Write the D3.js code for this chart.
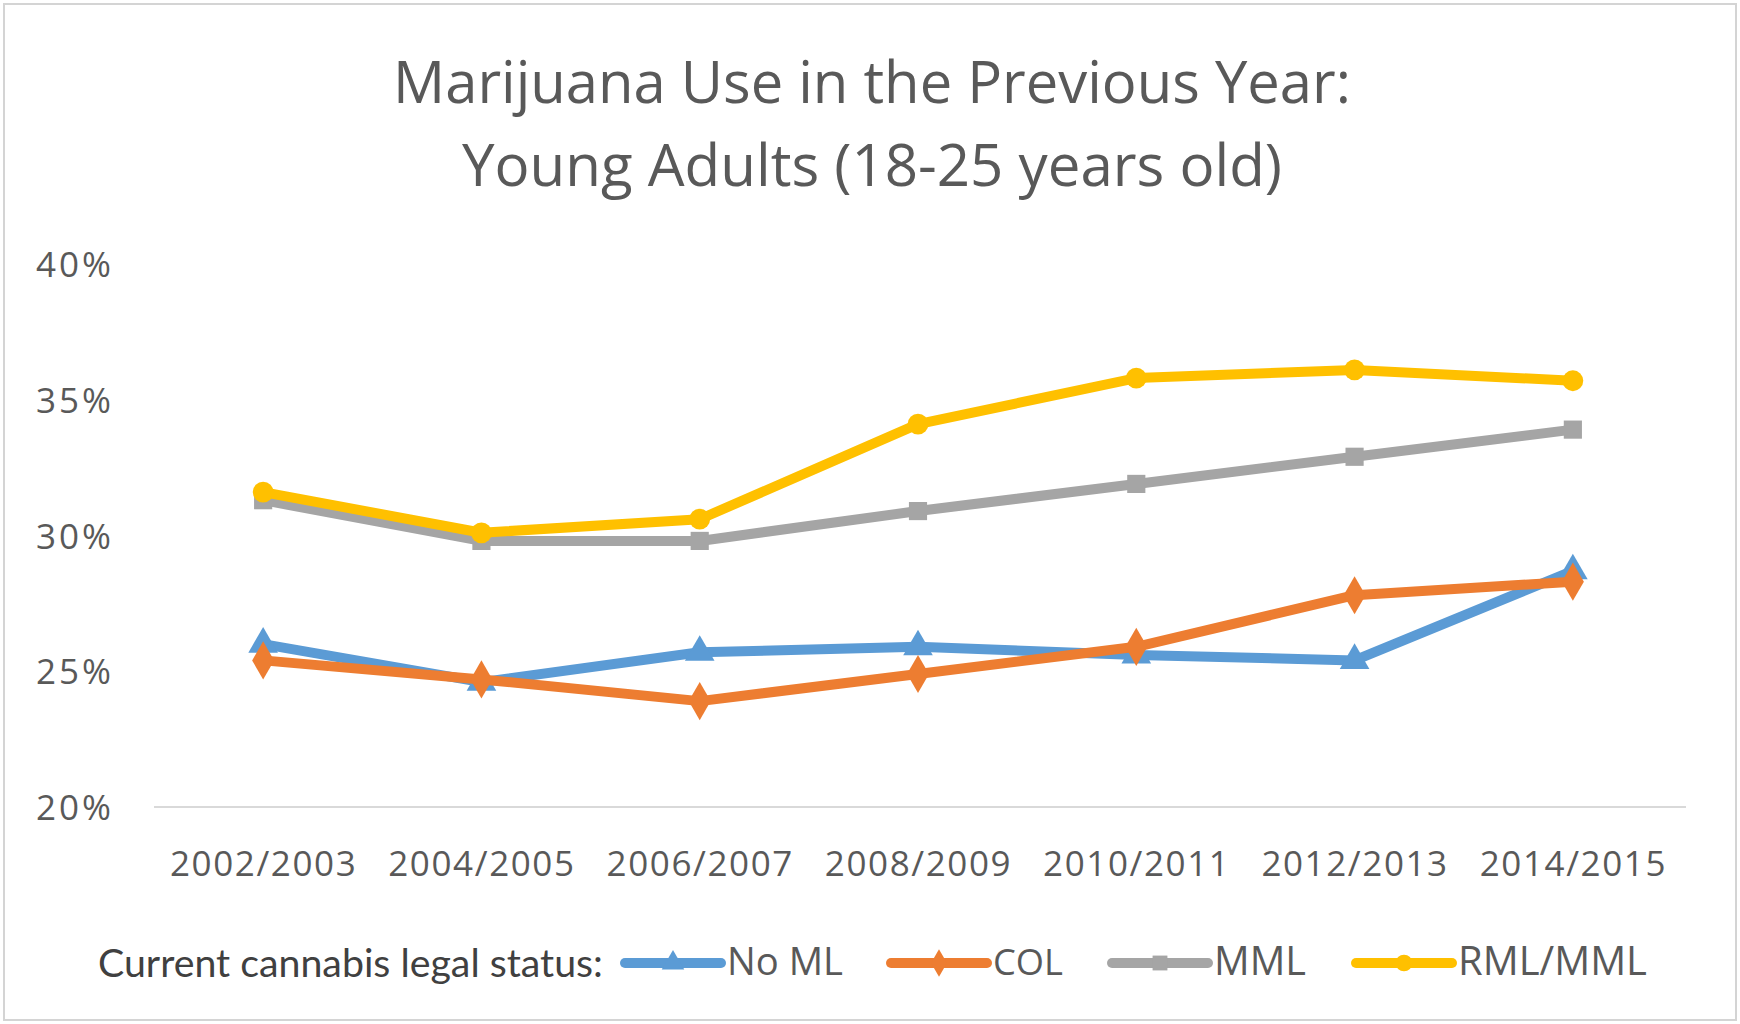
<!DOCTYPE html>
<html>
<head>
<meta charset="utf-8">
<script src="https://cdn.jsdelivr.net/npm/d3@7"></script>
<style>
  html, body { margin: 0; padding: 0; background: #fff; }
  svg { display: block; }
</style>
</head>
<body>
<svg id="chart" width="1740" height="1024"></svg>
<script>
// Survey periods on the x axis
const periods = ["2002/2003", "2004/2005", "2006/2007", "2008/2009", "2010/2011", "2012/2013", "2014/2015"];

// Past-year marijuana use (%) among 18-25 year olds, by current state legal status
const noML   = [26.0, 24.6, 25.7, 25.9, 25.6, 25.4, 28.7];
const col    = [25.4, 24.7, 23.9, 24.9, 25.9, 27.8, 28.3];
const mml    = [31.3, 29.8, 29.8, 30.9, 31.9, 32.9, 33.9];
const rmlMml = [31.6, 30.1, 30.6, 34.1, 35.8, 36.1, 35.7];

const seriesNames = ["No ML", "COL", "MML", "RML/MML"];
const yTicks = [20, 25, 30, 35, 40];

const titleLines = ["Marijuana Use in the Previous Year:", "Young Adults (18-25 years old)"];
const legendCaption = "Current cannabis legal status:";

const series = [
  { name: seriesNames[0], values: noML,   color: "#5B9BD5", symbol: d3.symbolTriangle },
  { name: seriesNames[1], values: col,    color: "#ED7D31", symbol: d3.symbolDiamond },
  { name: seriesNames[2], values: mml,    color: "#A5A5A5", symbol: d3.symbolSquare },
  { name: seriesNames[3], values: rmlMml, color: "#FFC000", symbol: d3.symbolCircle }
];

const svg = d3.select("#chart");
const W = 1740, H = 1024;

// Shrinks or grows a text element's font size so it spans the given width
function fitWidth(sel, width) {
  const node = sel.node();
  const fs = parseFloat(sel.attr("font-size"));
  const w = node.getComputedTextLength();
  sel.attr("font-size", (fs * width / w).toFixed(2));
  return sel;
}

// Outer frame
svg.append("rect")
  .attr("x", 4).attr("y", 4).attr("width", W - 8).attr("height", H - 8)
  .attr("fill", "#fff").attr("stroke", "#d4d4d4").attr("stroke-width", 2);

// Title
const titleFont = "'Open Sans', 'Noto Sans', sans-serif";
const titleWidths = [958, 820];
const titleBaselines = [103, 186];
titleLines.forEach((t, i) => {
  const el = svg.append("text")
    .attr("x", 872).attr("y", titleBaselines[i])
    .attr("text-anchor", "middle")
    .attr("font-family", titleFont)
    .attr("font-size", 56)
    .attr("fill", "#595959")
    .text(t);
  fitWidth(el, titleWidths[i]);
});

// Plot area
const margin = { left: 154, right: 1682, top: 264, bottom: 807 };

const x = d3.scalePoint()
  .domain(periods)
  .range([margin.left, margin.right])
  .padding(0.5);

const y = d3.scaleLinear()
  .domain([20, 40])
  .range([margin.bottom, margin.top]);

const labelFont = "'Open Sans', 'Noto Sans', sans-serif";

// Y axis: labels only, no line
const yAxis = d3.axisLeft(y)
  .tickValues(yTicks)
  .tickFormat(d => d + "%")
  .tickSize(0)
  .tickPadding(0);

const yg = svg.append("g")
  .attr("transform", `translate(114,0)`)
  .call(yAxis);
yg.select(".domain").remove();
yg.selectAll("text")
  .attr("font-family", labelFont)
  .attr("font-size", 35)
  .attr("letter-spacing", 3)
  .attr("fill", "#595959")
  .attr("dy", "0.36em");

// Baseline at 20%
svg.append("line")
  .attr("x1", margin.left).attr("x2", margin.right + 4)
  .attr("y1", y(20)).attr("y2", y(20))
  .attr("stroke", "#d9d9d9").attr("stroke-width", 2);

// X axis: category labels
const xAxis = d3.axisBottom(x).tickSize(0).tickPadding(0);
const xg = svg.append("g")
  .attr("transform", `translate(0,876)`)
  .call(xAxis);
xg.select(".domain").remove();
xg.selectAll("text")
  .attr("font-family", labelFont)
  .attr("font-size", 35)
  .attr("letter-spacing", 1.6)
  .attr("fill", "#595959")
  .attr("dy", 0);

// Lines and markers
const line = d3.line()
  .x((d, i) => x(periods[i]))
  .y(d => y(d));

const markerSize = { "No ML": 380, "COL": 420, "MML": 330, "RML/MML": 340 };

series.forEach(s => {
  const g = svg.append("g").attr("class", "series");
  g.append("path")
    .datum(s.values)
    .attr("d", line)
    .attr("fill", "none")
    .attr("stroke", s.color)
    .attr("stroke-width", 10)
    .attr("stroke-linejoin", "round")
    .attr("stroke-linecap", "round");
  g.selectAll("path.marker")
    .data(s.values)
    .join("path")
    .attr("class", "marker")
    .attr("transform", (d, i) => `translate(${x(periods[i])},${y(d)})`)
    .attr("d", d3.symbol().type(s.symbol).size(markerSize[s.name]))
    .attr("fill", s.color);
});

// Legend
const cap = svg.append("text")
  .attr("x", 98).attr("y", 977)
  .attr("font-family", "Lato, 'Open Sans', sans-serif")
  .attr("font-size", 40)
  .attr("fill", "#404040")
  .text(legendCaption);
fitWidth(cap, 505);

const legendLineX = [625, 891, 1112, 1356];
const legendTextW = [116, 70, 92, 189];
const legendY = 963;
series.forEach((s, i) => {
  const g = svg.append("g");
  const x0 = legendLineX[i];
  g.append("line")
    .attr("x1", x0).attr("x2", x0 + 96)
    .attr("y1", legendY).attr("y2", legendY)
    .attr("stroke", s.color).attr("stroke-width", 10)
    .attr("stroke-linecap", "round");
  g.append("path")
    .attr("transform", `translate(${x0 + 48},${legendY})`)
    .attr("d", d3.symbol().type(s.symbol).size(220))
    .attr("fill", s.color);
  const t = g.append("text")
    .attr("x", x0 + 102).attr("y", legendY + 12)
    .attr("font-family", labelFont)
    .attr("font-size", 31)
    .attr("fill", "#595959")
    .text(s.name);
  fitWidth(t, legendTextW[i]);
});
</script>
</body>
</html>
